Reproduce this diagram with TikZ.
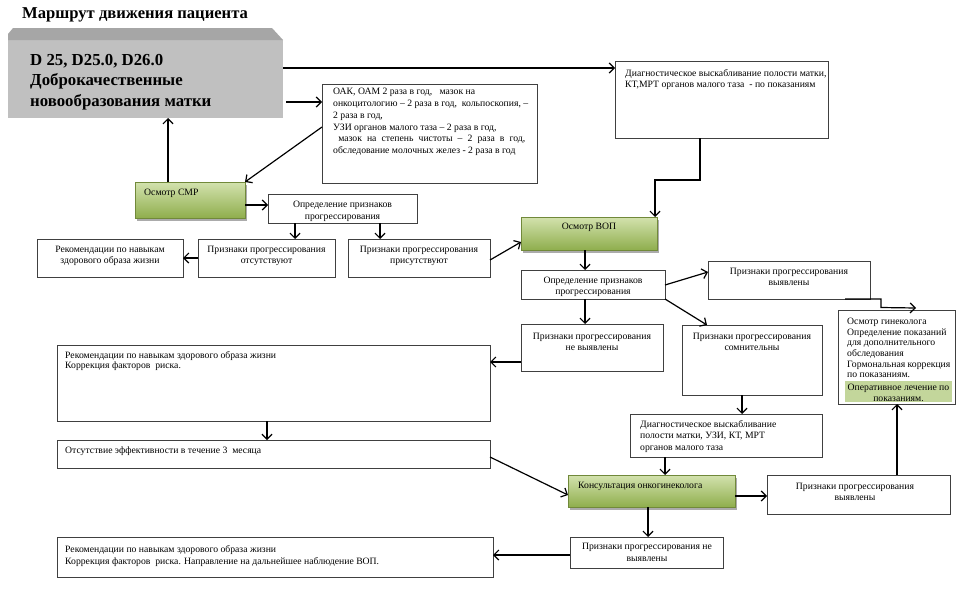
\documentclass[tikz,border=0pt]{standalone}
\usepackage{fontspec}
\setmainfont{Liberation Serif}
\usetikzlibrary{arrows.meta,fit,shadows,calc}
\definecolor{gtop}{HTML}{D3E2AE}
\definecolor{gbot}{HTML}{8FAE4D}
\definecolor{gedge}{HTML}{71893A}
\definecolor{bord}{HTML}{404040}
\definecolor{bxfront}{HTML}{C0C0C0}
\definecolor{bxtop}{HTML}{A6A6A6}
\definecolor{hl}{HTML}{C3D69B}
\begin{document}
\begin{tikzpicture}[x=1pt,y=-1pt,
  box/.style={draw=bord, line width=0.7pt, fill=white, inner sep=0pt, outer sep=0pt},
  gbox/.style={draw=gedge, line width=0.5pt, top color=gtop, bottom color=gbot, inner sep=0pt, outer sep=0pt,
     drop shadow={shadow xshift=2pt, shadow yshift=-2.5pt, opacity=0.6, fill=black!55}},
  arr/.style={line width=1.2pt, -{Straight Barb[length=5pt,width=10pt,line width=1.2pt]}},
  txt/.style={inner sep=0pt, font=\fontsize{9.7}{#1}\selectfont},
  txt/.default=12,
  txtc/.style={txt=#1, align=center, anchor=north},
  txtc/.default=12,
  txtl/.style={txt=#1, align=left, anchor=north west},
  txtl/.default=12]
\useasboundingbox (0,0) rectangle (971,589);
\fill[white] (0,0) rectangle (971,589);

% title
\node[anchor=north west, inner sep=0pt, font=\fontsize{16.6}{19}\selectfont\bfseries] (title) at (22,7.5) {Маршрут движения пациента};

% big 3D box
\node[fit={(8,28) (283,118)}, inner sep=0pt, outer sep=0pt] (dx) {};
\fill[bxfront] (8,40) rectangle (283,118);
\fill[bxtop] (8,40) -- (8,34) -- (13,28) -- (272,28) -- (283,40) -- cycle;
\node[inner sep=0pt, anchor=north west, align=left, font=\fontsize{16.8}{20.5}\selectfont\bfseries] (dx-t) at (30,54) {D 25, D25.0, D26.0\\Доброкачественные\\новообразования матки};

% boxes
\node[box, fit={(322,84) (537,183)}] (oak) {};
\node[box, fit={(615,61) (828,138)}] (diag1) {};
\node[gbox, fit={(135,182) (245,218)}] (smr) {};
\node[box, fit={(268,194) (417,223)}] (op1) {};
\node[box, fit={(37,239) (183,277)}] (rec1) {};
\node[box, fit={(198,239) (335,277)}] (ots) {};
\node[box, fit={(348,239) (490,277)}] (pri) {};
\node[gbox, fit={(521,217) (657,250)}] (vop) {};
\node[box, fit={(521,270) (665,299)}] (op2) {};
\node[box, fit={(708,261) (870,299)}] (pv1) {};
\node[box, fit={(838,310) (955,404)}] (gyn) {};
\node[box, fit={(521,324) (663,371)}] (nv1) {};
\node[box, fit={(682,325) (822,395)}] (som) {};
\node[box, fit={(57,345) (490,421)}] (rec2) {};
\node[box, fit={(57,440) (490,468)}] (otef) {};
\node[box, fit={(630,414) (822,457)}] (duzi) {};
\node[gbox, fit={(568,475) (735,507)}] (kons) {};
\node[box, fit={(767,475) (950,514)}] (pv2) {};
\node[box, fit={(570,537) (723,568)}] (nv2) {};
\node[box, fit={(57,537) (493,577)}] (rec3) {};

% texts
\node[txtl=11.8] (oak-t) at (333,88) {ОАК, ОАМ 2 раза в год,\ \ \ мазок на\\онкоцитологию – 2 раза в год,\ \ кольпоскопия, –\\2 раза в год,\\УЗИ органов малого таза – 2 раза в год,\\\makebox[192pt][s]{\ мазок на степень чистоты – 2 раза в год,}\\обследование молочных желез - 2 раза в год};
\node[txtl=11] (diag1-t) at (625,69) {Диагностическое выскабливание полости матки,\\КТ,МРТ органов малого таза\ \ - по показаниям};
\node[txtl] (smr-t) at (144,189) {Осмотр СМР};
\node[txtc] (op1-t) at (342.5,201) {Определение признаков\\прогрессирования};
\node[txtc=11] (rec1-t) at (110,246) {Рекомендации по навыкам\\здорового образа жизни};
\node[txtc=11] (ots-t) at (266.5,246) {Признаки прогрессирования\\отсутствуют};
\node[txtc=11] (pri-t) at (419,246) {Признаки прогрессирования\\присутствуют};
\node[txtc] (vop-t) at (589,223) {Осмотр ВОП};
\node[txtc=11] (op2-t) at (593,277) {Определение признаков\\прогрессирования};
\node[txtc=11] (pv1-t) at (789,268) {Признаки прогрессирования\\выявлены};
\node[txtc=11] (nv1-t) at (592,333) {Признаки прогрессирования\\не выявлены};
\node[txtc=11] (som-t) at (752,333) {Признаки прогрессирования\\сомнительны};
\node[txtl=10.6] (gyn-t) at (847,318) {Осмотр гинеколога\\Определение показаний\\для дополнительного\\обследования\\Гормональная коррекция\\по показаниям.};
\fill[hl] (845,381) rectangle (952,402);
\node[txtc=10.5] (gyn-h) at (898.5,384) {Оперативное лечение по\\показаниям.};
\node[txtl=10.5] (rec2-t) at (65,351) {Рекомендации по навыкам здорового образа жизни\\Коррекция факторов\ \ риска.};
\node[txtl] (otef-t) at (65,447) {Отсутствие эффективности в течение 3\ \ месяца};
\node[txtl=11.7] (duzi-t) at (640,420) {Диагностическое выскабливание\\полости матки, УЗИ, КТ, МРТ\\органов малого таза};
\node[txtl] (kons-t) at (578,482) {Консультация онкогинеколога};
\node[txtc=10.5] (pv2-t) at (855,483) {Признаки прогрессирования\\выявлены};
\node[txtc] (nv2-t) at (647,543) {Признаки прогрессирования не\\выявлены};
\node[txtl] (rec3-t) at (65,545) {Рекомендации по навыкам здорового образа жизни\\Коррекция факторов\ \ риска. Направление на дальнейшее наблюдение ВОП.};

% connectors
\draw[arr] (dx.east |- 0,68) -- (diag1.west |- 0,68);
\draw[arr] ([xshift=3pt]dx.east |- 0,102) -- (oak.west |- 0,102);
\draw[arr] (oak.west |- 0,127) -- (smr.north east);
\draw[arr] (smr.north -| 168,0) -- (dx.south -| 168,0);
\draw[arr] (smr.east |- 0,205) -- (op1.west |- 0,205);
\draw[arr] (op1.south -| 295,0) -- (ots.north -| 295,0);
\draw[arr] (op1.south -| 380,0) -- (pri.north -| 380,0);
\draw[arr] (ots.west |- 0,258) -- (rec1.east |- 0,258);
\draw[arr] (pri.east |- 0,260) -- (vop.west |- 0,242);
\draw[arr] (diag1.south -| 700,0) |- (655,180) -- (vop.north -| 655,0);
\draw[arr] (vop.south -| 585,0) -- (op2.north -| 585,0);
\draw[arr] (op2.south -| 585,0) -- (nv1.north -| 585,0);
\draw[arr] (op2.east |- 0,285) -- (pv1.west |- 0,272);
\draw[arr] (op2.south east) -- (som.north -| 707,0);
\draw[arr] (pv1.south -| 845,0) -- (881,299) -- (881,307.5) -- ([yshift=2pt]gyn.north -| 916,0);
\draw[arr] (nv1.west |- 0,362) -- (rec2.east |- 0,362);
\draw[arr] (rec2.south -| 267,0) -- (otef.north -| 267,0);
\draw[arr] (otef.east |- 0,457) -- (kons.west |- 0,495);
\draw[arr] (som.south -| 742,0) -- (duzi.north -| 742,0);
\draw[arr] (duzi.south -| 665,0) -- (kons.north -| 665,0);
\draw[arr] (kons.east |- 0,496) -- (pv2.west |- 0,496);
\draw[arr] (pv2.north -| 897,0) -- (gyn.south -| 897,0);
\draw[arr] (kons.south -| 648,0) -- (nv2.north -| 648,0);
\draw[arr] (nv2.west |- 0,555) -- (rec3.east |- 0,555);
\end{tikzpicture}
\end{document}
